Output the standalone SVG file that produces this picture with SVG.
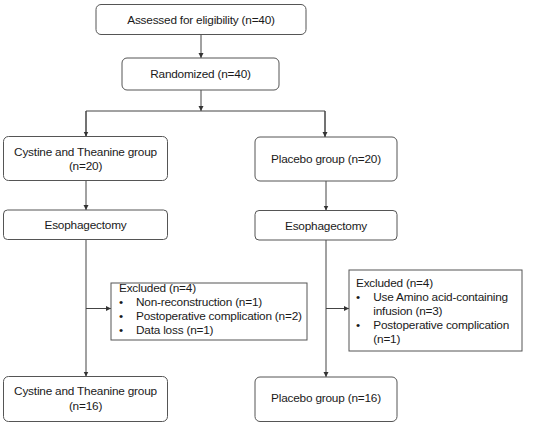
<svg xmlns="http://www.w3.org/2000/svg" width="550" height="426" viewBox="0 0 550 426">
<defs>
<marker id="arr" markerWidth="6" markerHeight="6" refX="5" refY="3" orient="auto" markerUnits="userSpaceOnUse">
<path d="M0,0.5 L5,3 L0,5.5 z" fill="#333"/>
</marker>
<style>
.box{fill:#fff;stroke:#555;stroke-width:1}
.t{font-family:"Liberation Sans",Arial,sans-serif;font-size:11.8px;letter-spacing:-0.2px;fill:#1a1a1a}
.m{text-anchor:middle}
.c{fill:none;stroke:#444;stroke-width:1}
</style>
</defs>
<rect width="550" height="426" fill="#fff"/>
<g id="connectors">
<line class="c" x1="201" y1="34.5" x2="201" y2="58" marker-end="url(#arr)"/>
<line class="c" x1="201" y1="90" x2="201" y2="111" marker-end="url(#arr)"/>
<polyline class="c" points="86,136.5 86,111 325,111 325,137"/>
<line class="c" x1="86" y1="111" x2="86" y2="136.5" marker-end="url(#arr)"/>
<line class="c" x1="325" y1="111" x2="325" y2="137" marker-end="url(#arr)"/>
<line class="c" x1="86" y1="180.5" x2="86" y2="210" marker-end="url(#arr)"/>
<line class="c" x1="326" y1="181" x2="326" y2="210.5" marker-end="url(#arr)"/>
<line class="c" x1="86" y1="239.5" x2="86" y2="376.5" marker-end="url(#arr)"/>
<line class="c" x1="326" y1="240" x2="326" y2="377" marker-end="url(#arr)"/>
<line class="c" x1="86" y1="308.5" x2="111" y2="308.5" marker-end="url(#arr)"/>
<line class="c" x1="326" y1="308.5" x2="349" y2="308.5" marker-end="url(#arr)"/>
</g>
<g id="assessed">
<rect class="box" x="96" y="4.5" width="210" height="30" rx="5"/>
<text class="t m" x="201" y="23.5">Assessed for eligibility (n=40)</text>
</g>
<g id="randomized">
<rect class="box" x="122" y="58" width="157" height="32" rx="5"/>
<text class="t m" x="200.5" y="78">Randomized (n=40)</text>
</g>
<g id="ct-group">
<rect class="box" x="3.5" y="136.5" width="164" height="44" rx="5"/>
<text class="t m" x="85.5" y="155.7">Cystine and Theanine group</text>
<text class="t m" x="85.5" y="170">(n=20)</text>
</g>
<g id="placebo-group">
<rect class="box" x="255" y="137" width="142" height="44" rx="5"/>
<text class="t m" x="326" y="163.3">Placebo group (n=20)</text>
</g>
<g id="esoph-left">
<rect class="box" x="3.5" y="210" width="164" height="29.5" rx="4"/>
<text class="t m" x="85.5" y="229">Esophagectomy</text>
</g>
<g id="esoph-right">
<rect class="box" x="255" y="210.5" width="142" height="29.5" rx="4"/>
<text class="t m" x="326" y="229.7">Esophagectomy</text>
</g>
<g id="excluded-left">
<rect class="box" x="111" y="283" width="196" height="57"/>
<text class="t" x="119" y="292.3">Excluded (n=4)</text>
<text class="t" x="119" y="306.3">•</text><text class="t" x="136" y="306.3">Non-reconstruction (n=1)</text>
<text class="t" x="119" y="320">•</text><text class="t" x="136" y="320">Postoperative complication (n=2)</text>
<text class="t" x="119" y="334">•</text><text class="t" x="136" y="334">Data loss (n=1)</text>
</g>
<g id="excluded-right">
<rect class="box" x="349" y="270" width="173" height="81"/>
<text class="t" x="356" y="287.3">Excluded (n=4)</text>
<text class="t" x="356" y="301">•</text><text class="t" x="373.3" y="301">Use Amino acid-containing</text>
<text class="t" x="373.3" y="315">infusion (n=3)</text>
<text class="t" x="356" y="329">•</text><text class="t" x="373.3" y="329">Postoperative complication</text>
<text class="t" x="373.3" y="343">(n=1)</text>
</g>
<g id="ct-final">
<rect class="box" x="3.5" y="376.5" width="164" height="45" rx="5"/>
<text class="t m" x="85.5" y="395">Cystine and Theanine group</text>
<text class="t m" x="85.5" y="409.7">(n=16)</text>
</g>
<g id="placebo-final">
<rect class="box" x="255" y="377" width="142" height="44.5" rx="5"/>
<text class="t m" x="326" y="402.3">Placebo group (n=16)</text>
</g>
</svg>
